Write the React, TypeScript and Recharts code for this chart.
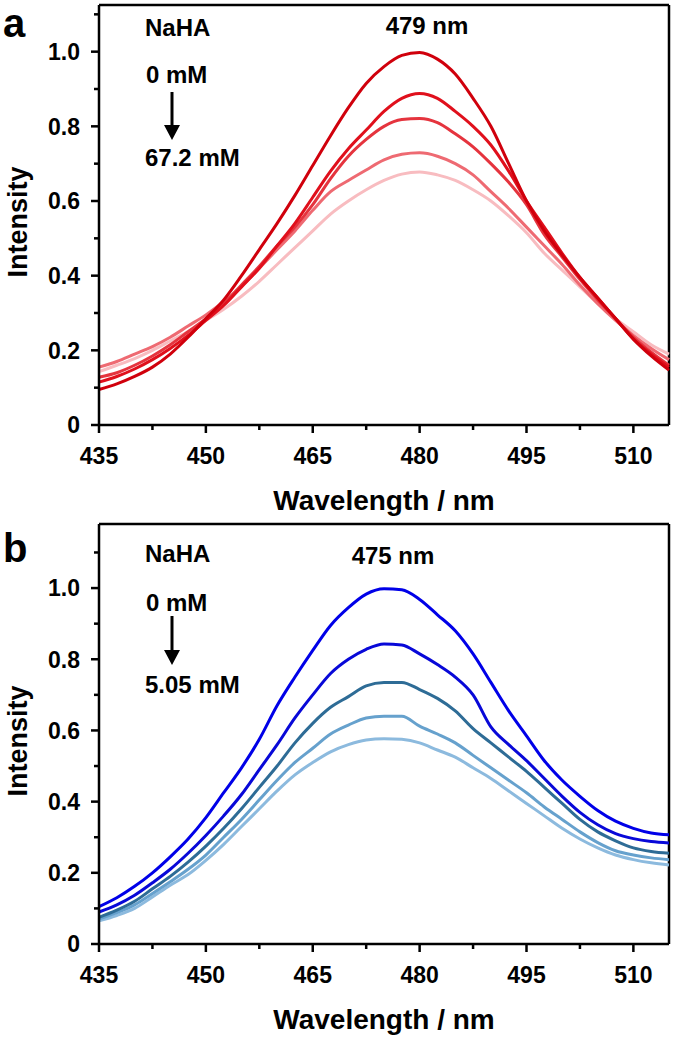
import React from 'react'
import { LineChart, Line, XAxis, YAxis, ReferenceLine } from 'recharts'

// wavelength grid (nm)
const wavelengths = [
  435, 437.5, 440, 442.5, 445, 447.5, 450, 452.5, 455, 457.5, 460, 462.5, 465,
  467.5, 470, 472.5, 475, 477.5, 480, 482.5, 485, 487.5, 490, 492.5, 495, 497.5,
  500, 502.5, 505, 507.5, 510, 512.5, 515,
]

// panel a, 0 mM -> 67.2 mM
const red1 = [0.095, 0.11, 0.13, 0.155, 0.19, 0.235, 0.285, 0.335, 0.4, 0.47, 0.54, 0.615, 0.695, 0.775, 0.85, 0.915, 0.96, 0.99, 0.998, 0.98, 0.94, 0.875, 0.8, 0.7, 0.6, 0.52, 0.455, 0.395, 0.34, 0.285, 0.23, 0.185, 0.147]
const red2 = [0.115, 0.13, 0.15, 0.175, 0.205, 0.24, 0.28, 0.32, 0.37, 0.42, 0.48, 0.54, 0.61, 0.68, 0.74, 0.79, 0.84, 0.875, 0.888, 0.875, 0.84, 0.8, 0.75, 0.68, 0.6, 0.53, 0.46, 0.395, 0.34, 0.285, 0.23, 0.19, 0.155]
const red3 = [0.128, 0.14, 0.16, 0.185, 0.215, 0.25, 0.285, 0.325, 0.375, 0.425, 0.48, 0.53, 0.59, 0.66, 0.72, 0.765, 0.8, 0.818, 0.821, 0.81, 0.78, 0.745, 0.7, 0.65, 0.59, 0.51, 0.45, 0.39, 0.335, 0.285, 0.235, 0.195, 0.16]
const red4 = [0.155, 0.17, 0.19, 0.21, 0.235, 0.265, 0.295, 0.33, 0.37, 0.42, 0.47, 0.52, 0.575, 0.625, 0.655, 0.683, 0.71, 0.725, 0.729, 0.72, 0.7, 0.67, 0.625, 0.58, 0.53, 0.48, 0.43, 0.375, 0.325, 0.28, 0.24, 0.205, 0.175]
const red5 = [0.143, 0.16, 0.178, 0.2, 0.225, 0.25, 0.28, 0.31, 0.345, 0.385, 0.43, 0.475, 0.52, 0.565, 0.6, 0.63, 0.655, 0.672, 0.678, 0.67, 0.655, 0.63, 0.6, 0.56, 0.515, 0.46, 0.415, 0.37, 0.325, 0.285, 0.25, 0.215, 0.19]

// panel b, 0 mM -> 5.05 mM
const blue1 = [0.105, 0.13, 0.162, 0.2, 0.245, 0.295, 0.355, 0.425, 0.495, 0.575, 0.67, 0.75, 0.825, 0.895, 0.945, 0.983, 0.998, 0.995, 0.968, 0.925, 0.88, 0.815, 0.735, 0.655, 0.585, 0.515, 0.46, 0.415, 0.375, 0.345, 0.325, 0.312, 0.307]
const blue2 = [0.09, 0.11, 0.137, 0.172, 0.21, 0.255, 0.305, 0.36, 0.42, 0.49, 0.56, 0.635, 0.7, 0.76, 0.8, 0.828, 0.843, 0.84, 0.815, 0.785, 0.75, 0.7, 0.61, 0.56, 0.515, 0.465, 0.415, 0.37, 0.335, 0.31, 0.296, 0.288, 0.284]
const blue3 = [0.075, 0.095, 0.12, 0.155, 0.19, 0.23, 0.275, 0.325, 0.38, 0.44, 0.5, 0.565, 0.62, 0.665, 0.695, 0.725, 0.735, 0.735, 0.715, 0.69, 0.655, 0.605, 0.565, 0.525, 0.485, 0.44, 0.395, 0.35, 0.315, 0.29, 0.27, 0.26, 0.255]
const blue4 = [0.07, 0.088, 0.11, 0.142, 0.175, 0.21, 0.25, 0.3, 0.35, 0.405, 0.46, 0.51, 0.55, 0.59, 0.615, 0.635, 0.64, 0.64, 0.612, 0.59, 0.565, 0.53, 0.495, 0.46, 0.425, 0.385, 0.35, 0.315, 0.285, 0.262, 0.25, 0.242, 0.237]
const blue5 = [0.065, 0.08, 0.1, 0.132, 0.165, 0.195, 0.235, 0.28, 0.33, 0.38, 0.43, 0.475, 0.51, 0.54, 0.56, 0.573, 0.577, 0.575, 0.565, 0.545, 0.525, 0.495, 0.465, 0.43, 0.395, 0.36, 0.325, 0.295, 0.27, 0.25, 0.237, 0.228, 0.222]

const xTicks = [435, 442.5, 450, 457.5, 465, 472.5, 480, 487.5, 495, 502.5, 510]
const yTicks = [0, 0.1, 0.2, 0.3, 0.4, 0.5, 0.6, 0.7, 0.8, 0.9, 1.0, 1.1]

const redColors = ['#d0000c', '#e0101c', '#e5343e', '#ee6a72', '#f8bcc0']
const blueColors = ['#0000e8', '#0808d8', '#2e6c96', '#66a1cd', '#8cbade']

const FONT = '"Liberation Sans", Arial, Helvetica, sans-serif'
const W = 675
const H = 518

const toRows = (curves: number[][]) =>
  wavelengths.map((wl, i) => {
    const row: Record<string, number> = { wl }
    curves.forEach((c, k) => (row['s' + k] = c[i]))
    return row
  })

const YTick = (props: any) => {
  const { x, y, payload } = props
  const v = payload.value
  const major = Math.round(v * 10) % 2 === 0
  return (
    <g>
      <line x1={x - (major ? 8 : 5)} x2={x} y1={y} y2={y} stroke="#000" strokeWidth={2.5} />
      {major && (
        <text x={x - 19} y={y} dy="0.36em" textAnchor="end" fontSize={23} fontWeight="bold" fontFamily={FONT} fill="#000">
          {v === 0 ? '0' : v.toFixed(1)}
        </text>
      )}
    </g>
  )
}

const XTick = (props: any) => {
  const { x, y, payload } = props
  const v = payload.value
  const major = (v - 435) % 15 === 0
  return (
    <g>
      <line x1={x} x2={x} y1={y} y2={y + (major ? 8 : 5)} stroke="#000" strokeWidth={2.5} />
      {major && (
        <text x={x} y={y + 39} textAnchor="middle" fontSize={23} fontWeight="bold" fontFamily={FONT} fill="#000">
          {v}
        </text>
      )}
    </g>
  )
}

const XTitle = (props: any) => {
  const vb = props.viewBox || { x: 99, y: 425, width: 570 }
  return (
    <text x={vb.x + vb.width / 2} y={vb.y + 85} textAnchor="middle" fontSize={28} fontWeight="bold" fontFamily={FONT} fill="#000">
      Wavelength / nm
    </text>
  )
}

const YTitle = () => (
  <text x={27} y={222} transform="rotate(-90 27 222)" textAnchor="middle" fontSize={27} fontWeight="bold" fontFamily={FONT} fill="#000">
    Intensity
  </text>
)

interface PanelProps {
  top: number
  curves: number[][]
  colors: string[]
  yMax: number
  letter: string
  letterY: number
  peak: string
  peakX: number
  peakY: number
  endConc: string
  textY: number[]
  arrow: number[]
}

function Panel({ top, curves, colors, yMax, letter, letterY, peak, peakX, peakY, endConc, textY, arrow }: PanelProps) {
  const rows = toRows(curves)
  const txt = { fontSize: 24, fontWeight: 'bold' as const, fontFamily: FONT, fill: '#000' }
  return (
    <div style={{ position: 'absolute', left: 0, top, width: W, height: H }}>
      <LineChart width={W} height={H} data={rows} margin={{ top: 5, right: 6, left: 39, bottom: 33 }}>
        <XAxis
          dataKey="wl"
          type="number"
          domain={[435, 515]}
          ticks={xTicks}
          interval={0}
          tick={<XTick />}
          tickLine={false}
          tickSize={0}
          tickMargin={0}
          height={60}
          axisLine={{ stroke: '#000', strokeWidth: 2.5 }}
          label={<XTitle />}
        />
        <YAxis
          type="number"
          domain={[0, yMax]}
          ticks={yTicks}
          interval={0}
          tick={<YTick />}
          tickLine={false}
          tickSize={0}
          tickMargin={0}
          width={60}
          axisLine={{ stroke: '#000', strokeWidth: 2.5 }}
          allowDataOverflow
        />
        <ReferenceLine y={yMax} stroke="#000" strokeWidth={2.5} ifOverflow="visible" />
        <ReferenceLine x={515} stroke="#000" strokeWidth={2.5} ifOverflow="visible" />
        {curves
          .map((_, k) => k)
          .reverse()
          .map(k => (
            <Line
              key={k}
              dataKey={'s' + k}
              type="monotone"
              stroke={colors[k]}
              strokeWidth={3}
              dot={false}
              activeDot={false}
              isAnimationActive={false}
            />
          ))}
      </LineChart>
      <svg width={W} height={H} style={{ position: 'absolute', left: 0, top: 0, pointerEvents: 'none' }}>
        <text x={3} y={letterY} fontSize={40} fontWeight="bold" fontFamily={FONT} fill="#000">
          {letter}
        </text>
        <YTitle />
        <text x={145} y={textY[0]} dy="0.36em" {...txt}>NaHA</text>
        <text x={146} y={textY[1]} dy="0.36em" {...txt}>0 mM</text>
        <text x={145} y={textY[2]} dy="0.36em" {...txt}>{endConc}</text>
        <text x={peakX} y={peakY} dy="0.36em" textAnchor="middle" {...txt}>{peak}</text>
        <line x1={172} x2={172} y1={arrow[0]} y2={arrow[1] - 10} stroke="#000" strokeWidth={3} />
        <polygon points={`${164},${arrow[1] - 15} ${180},${arrow[1] - 15} ${172},${arrow[1]}`} fill="#000" />
      </svg>
    </div>
  )
}

export default function App() {
  return (
    <div style={{ position: 'absolute', left: 0, top: 0, width: W, height: 1037, background: '#fff' }}>
      <Panel
        top={0}
        curves={[red1, red2, red3, red4, red5]}
        colors={redColors}
        yMax={1.125}
        letter="a"
        letterY={37}
        peak="479 nm"
        peakX={427}
        peakY={25}
        endConc="67.2 mM"
        textY={[27, 74, 157]}
        arrow={[92, 140]}
      />
      <Panel
        top={519}
        curves={[blue1, blue2, blue3, blue4, blue5]}
        colors={blueColors}
        yMax={1.18}
        letter="b"
        letterY={43}
        peak="475 nm"
        peakX={393}
        peakY={36}
        endConc="5.05 mM"
        textY={[34, 83, 165]}
        arrow={[97, 146]}
      />
    </div>
  )
}
